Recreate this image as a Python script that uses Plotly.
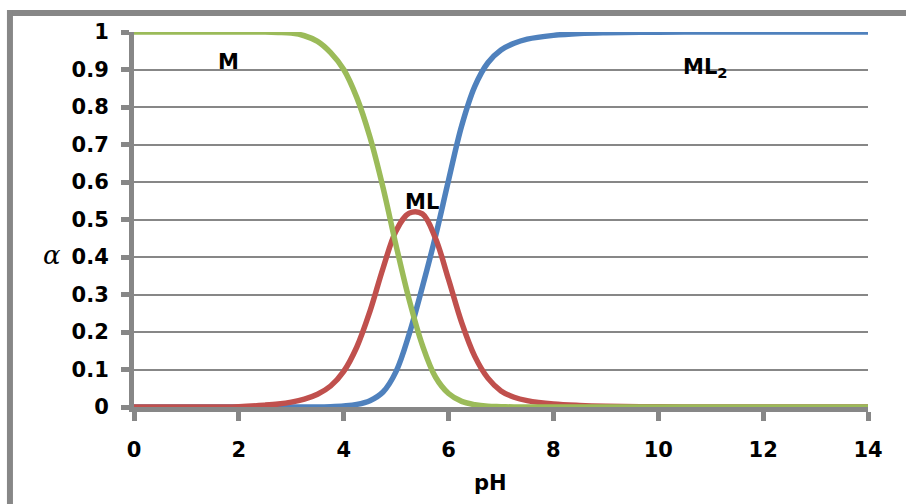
import plotly.graph_objects as go

# pH grid and fractional composition of each species
ph = [0, 1, 2, 2.5, 2.75, 3, 3.25, 3.5, 3.75, 4, 4.25, 4.5, 4.75, 5, 5.25, 5.5,
      5.75, 6, 6.25, 6.5, 6.75, 7, 7.25, 7.5, 8, 8.5, 9, 10, 11, 12, 13, 14]
alpha_M = [1, 1, 1, 1, 0.999, 0.997, 0.99, 0.975, 0.945, 0.9, 0.825, 0.72, 0.585,
           0.43, 0.285, 0.165, 0.08, 0.036, 0.015, 0.006, 0.002, 0.001, 0, 0, 0,
           0, 0, 0, 0, 0, 0, 0]
alpha_ML = [0, 0, 0.001, 0.005, 0.008, 0.013, 0.021, 0.034, 0.056, 0.095, 0.16,
            0.255, 0.37, 0.47, 0.517, 0.515, 0.45, 0.34, 0.225, 0.135, 0.077,
            0.043, 0.026, 0.017, 0.008, 0.004, 0.002, 0.0005, 0, 0, 0, 0]
alpha_ML2 = [0, 0, 0, 0, 0, 0, 0, 0, 0.001, 0.003, 0.007, 0.017, 0.04, 0.095, 0.195,
             0.32, 0.455, 0.605, 0.75, 0.855, 0.918, 0.952, 0.97, 0.981, 0.991,
             0.996, 0.998, 0.9995, 1, 1, 1, 1]

x_ticks = [0, 2, 4, 6, 8, 10, 12, 14]
y_ticks = [0, 0.1, 0.2, 0.3, 0.4, 0.5, 0.6, 0.7, 0.8, 0.9, 1]
y_tick_text = ["0", "0.1", "0.2", "0.3", "0.4", "0.5", "0.6", "0.7", "0.8", "0.9", "1"]

labels = [("M", 1.8, 0.92), ("ML", 5.5, 0.547), ("ML<sub>2</sub>", 10.9, 0.905)]

GREEN = "#9BBB59"
RED = "#C0504D"
BLUE = "#4F81BD"
GREY = "#878787"
FONT = "DejaVu Sans"

fig = go.Figure()
for ys, col in [(alpha_ML2, BLUE), (alpha_ML, RED), (alpha_M, GREEN)]:
    fig.add_trace(go.Scatter(
        x=ph, y=ys, mode="lines",
        line=dict(color=col, width=5.5, shape="spline", smoothing=1.0),
        showlegend=False, hoverinfo="skip",
    ))

for text, x, y in labels:
    fig.add_annotation(x=x, y=y, text=f"<b>{text}</b>", showarrow=False,
                       font=dict(family=FONT, size=21, color="black"),
                       xanchor="center", yanchor="middle")

# y-axis title (italic alpha) and x-axis title
fig.add_annotation(xref="paper", yref="paper", x=-0.112, y=0.405,
                   text="<i>α</i>", showarrow=False,
                   font=dict(family="DejaVu Serif", size=26, color="black"),
                   xanchor="center", yanchor="middle")
fig.add_annotation(xref="paper", yref="paper", x=0.486, y=-0.203,
                   text="<b>pH</b>", showarrow=False,
                   font=dict(family=FONT, size=21, color="black"),
                   xanchor="center", yanchor="middle")

# outer chart frame (top and left edges)
fig.add_shape(type="line", xref="paper", yref="paper",
              x0=-0.17, x1=1.1, y0=1.051, y1=1.051,
              line=dict(color=GREY, width=6))
fig.add_shape(type="line", xref="paper", yref="paper",
              x0=-0.169, x1=-0.169, y0=1.059, y1=-0.3,
              line=dict(color=GREY, width=6))

fig.update_layout(
    width=906, height=504,
    margin=dict(l=134, r=38, t=32, b=97),
    paper_bgcolor="white", plot_bgcolor="white",
    font=dict(family=FONT, size=21, color="black"),
    xaxis=dict(
        range=[0, 14], tickvals=x_ticks, ticktext=[f"<b>{v}</b>" for v in x_ticks],
        showgrid=False, zeroline=False,
        showline=True, linecolor=GREY, linewidth=5,
        ticks="outside", ticklen=9, tickwidth=5, tickcolor=GREY,
        ticklabelstandoff=11,
    ),
    yaxis=dict(
        range=[0, 1], tickvals=y_ticks, ticktext=[f"<b>{t}</b>" for t in y_tick_text],
        showgrid=True, gridcolor=GREY, gridwidth=2, zeroline=False,
        showline=True, linecolor=GREY, linewidth=5,
        ticks="outside", ticklen=8, tickwidth=5, tickcolor=GREY,
        ticklabelstandoff=8,
    ),
)

fig.write_html("out.html")
